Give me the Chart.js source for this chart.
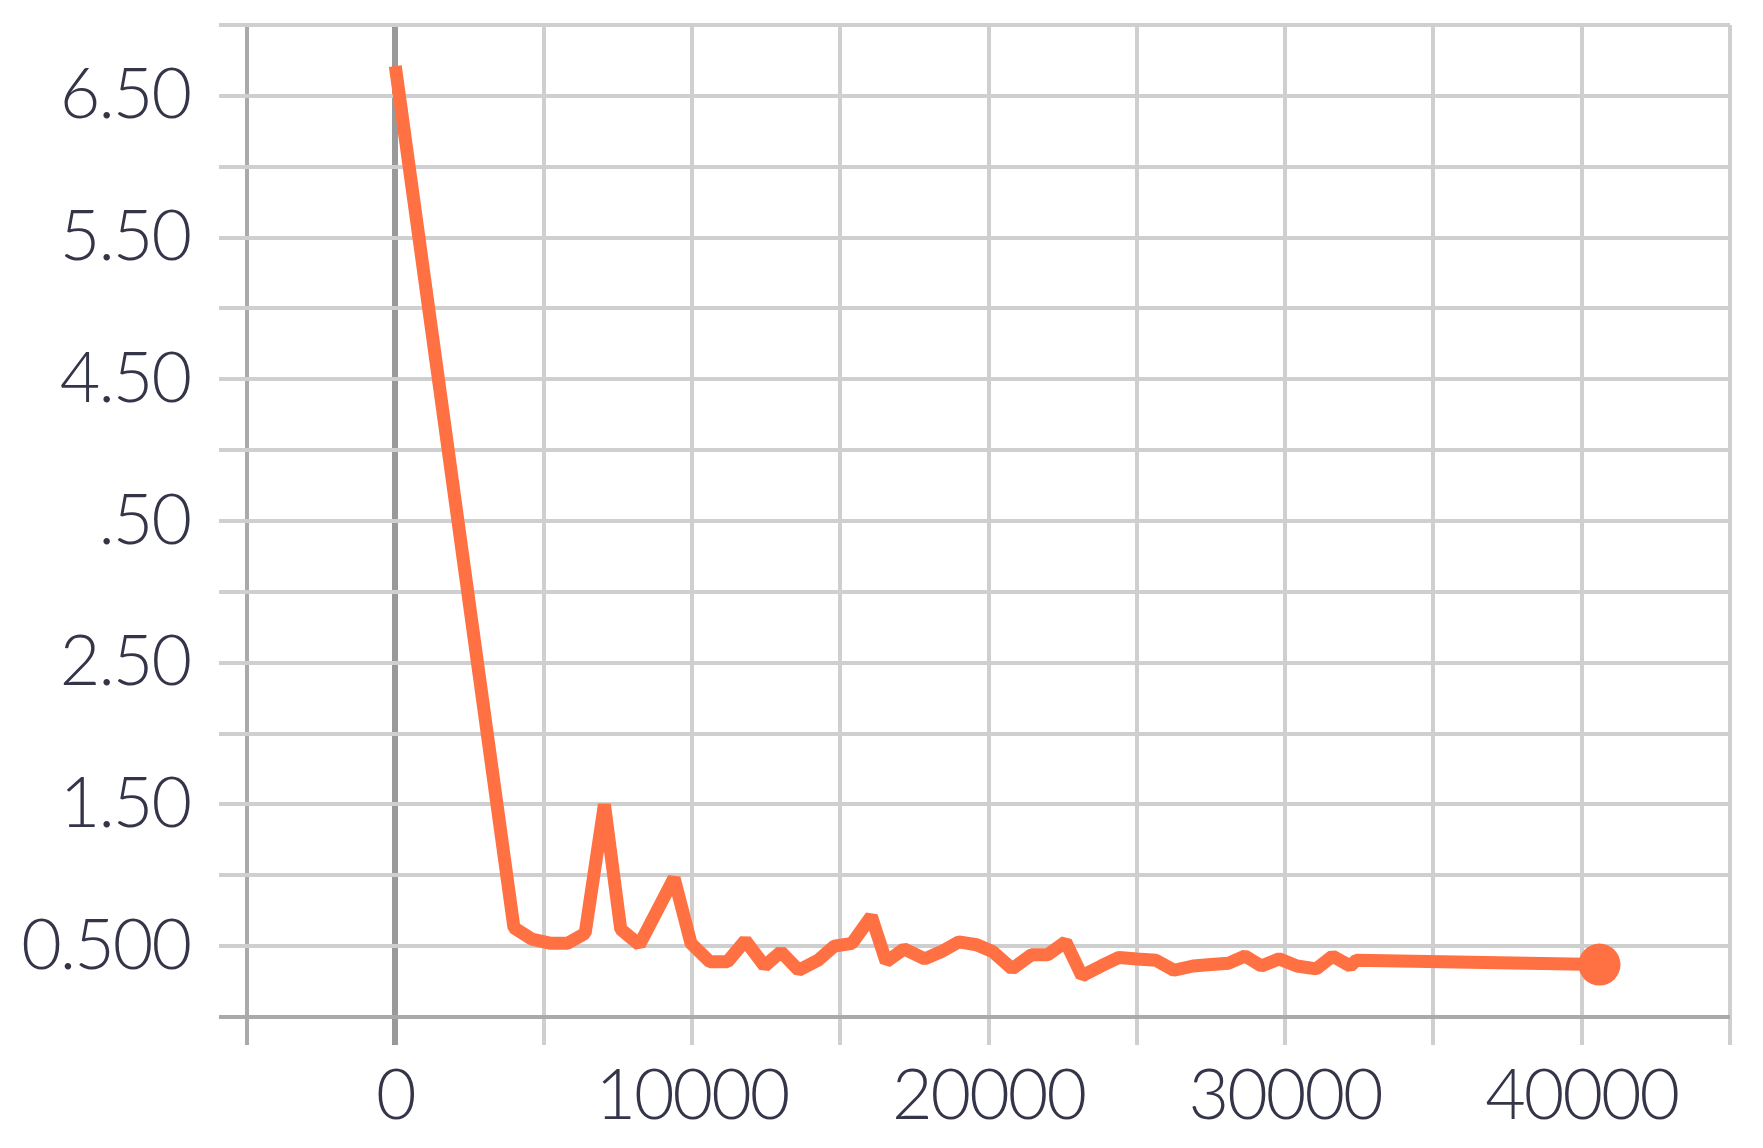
<!DOCTYPE html>
<html>
<head>
<meta charset="utf-8">
<script src="https://cdn.jsdelivr.net/npm/chart.js@4.4.1/dist/chart.umd.min.js"></script>
<style>
    html, body { margin: 0; padding: 0; background: #fff; }
    #wrap { width: 1763px; height: 1148px; }
</style>
</head>
<body>
<div id="wrap"><canvas id="lossChart"></canvas></div>
<script>
// training steps and loss
const steps = [0, 4000, 4600, 5250, 5800, 6400, 7050, 7600, 8230, 9400, 9970, 10600, 11200, 11800, 12450, 13000,
    13600, 14250, 14800, 15400, 16050, 16550, 17150, 17850, 18400, 19000, 19600, 20150, 20800, 21450, 22000,
    22600, 23150, 23800, 24400, 25000, 25650, 26250, 26900, 27500, 28100, 28650, 29200, 29800, 30400, 31050,
    31600, 32200, 32400, 40600];
const loss = [6.71, 0.63, 0.55, 0.52, 0.52, 0.59, 1.50, 0.62, 0.51, 0.98, 0.52, 0.39, 0.39, 0.54, 0.36, 0.46,
    0.33, 0.40, 0.50, 0.52, 0.71, 0.39, 0.48, 0.41, 0.46, 0.53, 0.51, 0.46, 0.34, 0.44, 0.44,
    0.53, 0.29, 0.36, 0.42, 0.41, 0.40, 0.33, 0.36, 0.37, 0.38, 0.43, 0.36, 0.41, 0.36, 0.34,
    0.43, 0.36, 0.40, 0.37];

// tick labels as they show on the axes
const xTickValues = [0, 10000, 20000, 30000, 40000];
const xTickText = ['0', '10000', '20000', '30000', '40000'];
const yTickValues = [0.5, 1.5, 2.5, 3.5, 4.5, 5.5, 6.5];
const yTickText = ['0.500', '1.50', '2.50', '.50', '4.50', '5.50', '6.50'];

const orange = '#ff7043';
const lastIndex = steps.length - 1;

function labelFor(values, texts, v) {
    const i = values.findIndex(t => Math.abs(t - v) < 1e-6);
    return i >= 0 ? texts[i] : '';
}

const tickFont = { family: "Lato, 'Open Sans', sans-serif", size: 70, weight: 300 };

// the digits in the picture sit a bit closer together than Lato's
const tightText = {
    id: 'tightText',
    beforeDraw: chart => { chart.ctx.letterSpacing = '-2px'; }
};

const lossChart = new Chart(document.getElementById('lossChart'), {
    type: 'scatter',
    data: {
        datasets: [{
            label: 'loss',
            data: steps.map((s, i) => ({ x: s, y: loss[i] })),
            showLine: true,
            borderColor: orange,
            borderWidth: 13,
            borderJoinStyle: 'bevel',
            tension: 0,
            backgroundColor: orange,
            pointBackgroundColor: orange,
            pointBorderWidth: 0,
            pointRadius: ctx => ctx.dataIndex === lastIndex ? 21 : 0,
            pointHoverRadius: ctx => ctx.dataIndex === lastIndex ? 21 : 0
        }]
    },
    plugins: [tightText],
    options: {
        responsive: true,
        maintainAspectRatio: false,
        animation: false,
        layout: { padding: { top: 25, right: 33, left: 0, bottom: 0 } },
        plugins: {
            legend: { display: false },
            tooltip: { enabled: false }
        },
        scales: {
            x: {
                type: 'linear',
                min: -5000,
                max: 45000,
                afterFit: s => { s.height = 131; s.paddingLeft = 0; s.paddingRight = 0; },
                border: { display: false },
                grid: {
                    drawTicks: true,
                    tickLength: 28,
                    color: ctx => ctx.tick.value === 0 ? '#999999' : (ctx.tick.value === -5000 ? '#aaaaaa' : '#cfcfcf'),
                    lineWidth: ctx => ctx.tick.value === 0 ? 6 : 4
                },
                ticks: {
                    stepSize: 5000,
                    autoSkip: false,
                    maxRotation: 0,
                    padding: 9,
                    color: '#35354a',
                    font: tickFont,
                    callback: v => labelFor(xTickValues, xTickText, v)
                }
            },
            y: {
                min: 0,
                max: 7,
                afterFit: s => { s.width = 247; s.paddingTop = 0; s.paddingBottom = 0; },
                border: { display: false },
                grid: {
                    drawTicks: true,
                    tickLength: 28,
                    color: ctx => ctx.tick.value === 0 ? '#aaaaaa' : '#cfcfcf',
                    lineWidth: 4
                },
                ticks: {
                    stepSize: 0.5,
                    autoSkip: false,
                    padding: 29,
                    color: '#35354a',
                    font: tickFont,
                    callback: v => labelFor(yTickValues, yTickText, v)
                }
            }
        }
    }
});
</script>
</body>
</html>
